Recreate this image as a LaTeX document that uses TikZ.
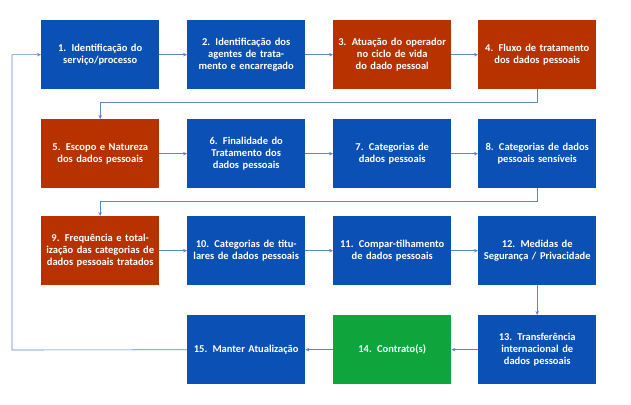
\documentclass[tikz,border=0pt]{standalone}
\usepackage{fontspec}
\setmainfont{Carlito}
\usetikzlibrary{arrows.meta}
\definecolor{bblue}{HTML}{0B50B4}
\definecolor{bred}{HTML}{B83200}
\definecolor{bgreen}{HTML}{0EA53C}
\definecolor{lcol}{HTML}{5B86C8}
\begin{document}
\begin{tikzpicture}[x=1pt,y=-1pt,
  box/.style={minimum width=118pt,minimum height=69pt,inner sep=2pt,text width=112pt,align=center,text=white,font=\bfseries\fontsize{10.5}{12}\selectfont,anchor=north west},
  bb/.style={box,fill=bblue},
  br/.style={box,fill=bred},
  bg/.style={box,fill=bgreen},
  conn/.style={draw=lcol,line width=0.6pt,-{Stealth[length=4pt,width=3.5pt]}}]
\useasboundingbox (0,0) rectangle (631,404);
\node[bb] (n1) at (41,20) {1. Identificação do serviço/processo};
\node[bb] (n2) at (187,20) {2. Identificação dos agentes de tratamento e encarregado};
\node[br] (n3) at (333,20) {3. Atuação do operador no ciclo de vida do dado pessoal};
\node[br] (n4) at (478,20) {4. Fluxo de tratamento dos dados pessoais};
\node[br] (n5) at (41,119) {5. Escopo e Natureza dos dados pessoais};
\node[bb] (n6) at (187,119) {6. Finalidade do Tratamento dos dados pessoais};
\node[bb] (n7) at (333,119) {7. Categorias de dados pessoais};
\node[bb] (n8) at (478,119) {8. Categorias de dados pessoais sensíveis};
\node[br] (n9) at (41,216) {9. Frequência e totalização das categorias de dados pessoais tratados};
\node[bb] (n10) at (187,216) {10. Categorias de titulares de dados pessoais};
\node[bb] (n11) at (333,216) {11. Compar-tilhamento de dados pessoais};
\node[bb] (n12) at (478,216) {12. Medidas de Segurança / Privacidade};
\node[bb] (n13) at (478,315) {13. Transferência internacional de dados pessoais};
\node[bg] (n14) at (333,315) {14. Contrato(s)};
\node[bb] (n15) at (187,315) {15. Manter Atualização};
\draw[conn] (n1) -- (n2);
\draw[conn] (n2) -- (n3);
\draw[conn] (n3) -- (n4);
\draw[conn] (n4.south) -- ++(0,13) -| (n5.north);
\draw[conn] (n5) -- (n6);
\draw[conn] (n6) -- (n7);
\draw[conn] (n7) -- (n8);
\draw[conn] (n8.south) -- ++(0,13) -| (n9.north);
\draw[conn] (n9) -- (n10);
\draw[conn] (n10) -- (n11);
\draw[conn] (n11) -- (n12);
\draw[conn] (n12) -- (n13);
\draw[conn] (n13) -- (n14);
\draw[conn] (n14) -- (n15);
\coordinate (c1) at (12,350);
\draw[conn] (n15.west) -- (c1) |- (n1.west);
\end{tikzpicture}
\end{document}
